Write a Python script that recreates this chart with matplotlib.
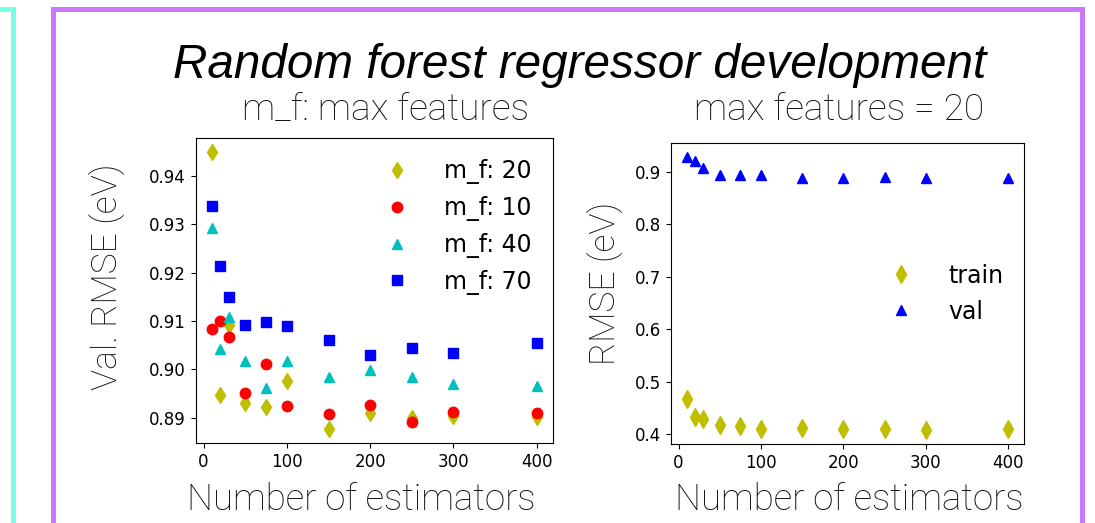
import matplotlib
matplotlib.use("Agg")
import matplotlib.pyplot as plt
from matplotlib.patches import Rectangle

# number of trees in the forest
n_estimators = [10, 20, 30, 50, 75, 100, 150, 200, 250, 300, 400]

# validation RMSE (eV) for each max_features setting
rmse_mf20 = [0.9450, 0.8947, 0.9092, 0.8930, 0.8921, 0.8976, 0.8876, 0.8909, 0.8900, 0.8904, 0.8901]
rmse_mf10 = [0.9084, 0.9099, 0.9066, 0.8950, 0.9011, 0.8923, 0.8907, 0.8926, 0.8890, 0.8912, 0.8909]
rmse_mf40 = [0.9293, 0.9042, 0.9108, 0.9018, 0.8961, 0.9018, 0.8983, 0.8999, 0.8983, 0.8969, 0.8966]
rmse_mf70 = [0.9338, 0.9213, 0.9150, 0.9092, 0.9098, 0.9089, 0.9060, 0.9029, 0.9044, 0.9034, 0.9054]

# train / val RMSE (eV) with max features = 20
rmse_train = [0.4669, 0.4338, 0.4287, 0.4172, 0.4159, 0.4096, 0.4127, 0.4096, 0.4096, 0.4076, 0.4108]
rmse_val = [0.9287, 0.9204, 0.9076, 0.8936, 0.8936, 0.8936, 0.8885, 0.8885, 0.8904, 0.8885, 0.8885]

W, H = 1095, 523
fig = plt.figure(figsize=(W / 100, H / 100), dpi=100)
fig.patch.set_facecolor("white")

# slide frames
fig.patches.append(Rectangle((-0.05, -0.1), (12.5 + 0.05 * W) / W, 1.1 - 9.5 / H,
                             transform=fig.transFigure, fill=False, edgecolor="#77ffe6", lw=3.6))
fig.patches.append(Rectangle((53 / W, -0.1), (1081.5 - 53) / W, 1.1 - 8.5 / H,
                             transform=fig.transFigure, fill=False, edgecolor="#cc77ff", lw=3.6))

label_font = dict(family=["Roboto", "DejaVu Sans"], fontweight="light", color="#111111")
ms = 7.5

# left panel: max_features sweep
ax1 = fig.add_axes([195.7 / W, 1 - 443 / H, (553 - 195.7) / W, (443 - 138) / H])
ax1.plot(n_estimators, rmse_mf20, "yd", ms=ms + 1, label="m_f: 20")
ax1.plot(n_estimators, rmse_mf10, "ro", ms=ms, label="m_f: 10")
ax1.plot(n_estimators, rmse_mf40, "c^", ms=ms, label="m_f: 40")
ax1.plot(n_estimators, rmse_mf70, "bs", ms=ms, label="m_f: 70")
ax1.set_xticks([0, 100, 200, 300, 400])
ax1.set_yticks([0.89, 0.90, 0.91, 0.92, 0.93, 0.94])
ax1.set_yticklabels(["0.89", "0.90", "0.91", "0.92", "0.93", "0.94"])
ax1.tick_params(labelsize=12)
ax1.legend(loc="upper right", frameon=False, fontsize=17, numpoints=1, handletextpad=1.0)

# right panel: train vs val
ax2 = fig.add_axes([670.7 / W, 1 - 444 / H, (1024.3 - 670.7) / W, (444 - 143.3) / H])
ax2.plot(n_estimators, rmse_train, "yd", ms=ms + 1.5, label="train")
ax2.plot(n_estimators, rmse_val, "b^", ms=ms, label="val")
ax2.set_xticks([0, 100, 200, 300, 400])
ax2.set_yticks([0.4, 0.5, 0.6, 0.7, 0.8, 0.9])
ax2.tick_params(labelsize=12)
ax2.legend(loc="center right", frameon=False, fontsize=17, numpoints=1, handletextpad=1.0)

# titles and axis labels
fig.text(580 / W, 1 - 78 / H, "Random forest regressor development", ha="center", va="baseline",
         fontsize=34.3, style="italic", family=["Liberation Sans", "DejaVu Sans"])
fig.text(385.5 / W, 1 - 120 / H, "m_f: max features", ha="center", va="baseline", fontsize=26.7, **label_font)
fig.text(839 / W, 1 - 120 / H, "max features = 20", ha="center", va="baseline", fontsize=26.7, **label_font)
fig.text(361 / W, 1 - 510 / H, "Number of estimators", ha="center", va="baseline", fontsize=26.4, **label_font)
fig.text(849 / W, 1 - 510 / H, "Number of estimators", ha="center", va="baseline", fontsize=26.4, **label_font)
fig.text(108 / W, 1 - 277 / H, "Val. RMSE (eV)", ha="center", va="center", rotation=90, fontsize=25.5, **label_font)
fig.text(606 / W, 1 - 283 / H, "RMSE (eV)", ha="center", va="center", rotation=90, fontsize=25.5, **label_font)

fig.savefig("out.png", dpi=100)
